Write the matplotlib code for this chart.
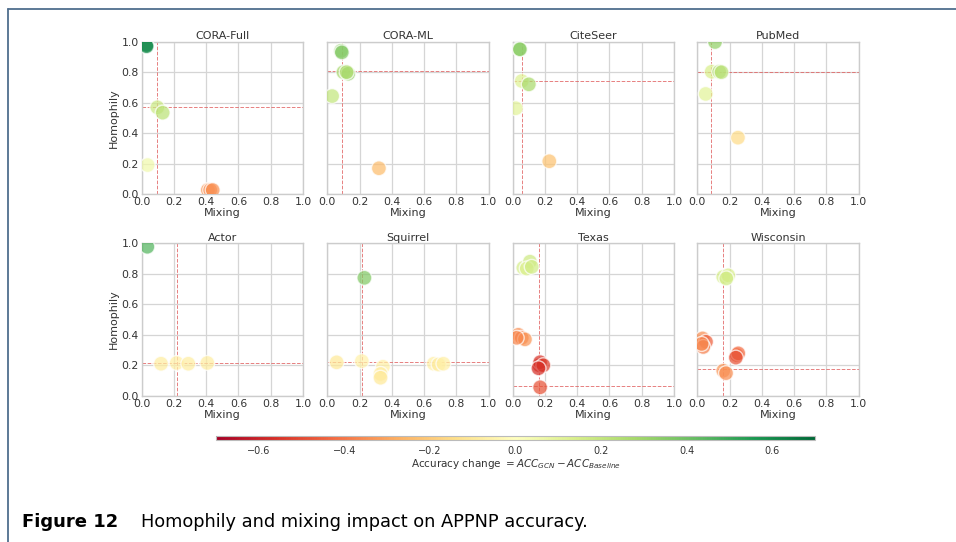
import numpy as np
import matplotlib
matplotlib.use("Agg")
import matplotlib.pyplot as plt
import seaborn as sns

sns.set_style("whitegrid")
plt.rcParams['font.family'] = ['DejaVu Sans']

# --- DATA: one entry per class group (mixing, homophily, accuracy change) ---
CORA_FULL_MIX = [0.03, 0.03, 0.097, 0.13, 0.037, 0.41, 0.425, 0.44]
CORA_FULL_HOM = [0.978, 0.97, 0.569, 0.534, 0.19, 0.026, 0.026, 0.026]
CORA_FULL_ACC = [0.62, 0.6, 0.18, 0.22, 0.05, -0.33, -0.35, -0.34]

CORA_ML_MIX = [0.085, 0.09, 0.10, 0.13, 0.12, 0.03, 0.32]
CORA_ML_HOM = [0.94, 0.93, 0.80, 0.79, 0.80, 0.643, 0.169]
CORA_ML_ACC = [0.33, 0.36, 0.28, 0.32, 0.25, 0.2, -0.24]

CITESEER_MIX = [0.041, 0.045, 0.056, 0.10, 0.019, 0.227]
CITESEER_HOM = [0.952, 0.95, 0.742, 0.72, 0.563, 0.215]
CITESEER_ACC = [0.36, 0.33, 0.12, 0.27, 0.1, -0.22]

PUBMED_MIX = [0.11, 0.089, 0.136, 0.15, 0.052, 0.252]
PUBMED_HOM = [0.998, 0.803, 0.803, 0.80, 0.657, 0.37]
PUBMED_ACC = [0.32, 0.14, 0.26, 0.22, 0.1, -0.15]

ACTOR_MIX = [0.035, 0.12, 0.217, 0.289, 0.407]
ACTOR_HOM = [0.978, 0.21, 0.215, 0.21, 0.215]
ACTOR_ACC = [0.45, -0.08, -0.07, -0.08, -0.08]

SQUIRREL_MIX = [0.23, 0.058, 0.214, 0.345, 0.33, 0.33, 0.66, 0.69, 0.72]
SQUIRREL_HOM = [0.774, 0.219, 0.227, 0.19, 0.143, 0.118, 0.21, 0.205, 0.21]
SQUIRREL_ACC = [0.36, -0.1, -0.06, -0.07, -0.08, -0.1, -0.07, -0.09, -0.07]

TEXAS_MIX = [0.066, 0.107, 0.087, 0.118, 0.035, 0.056, 0.076, 0.025,
             0.165, 0.17, 0.19, 0.16, 0.17]
TEXAS_HOM = [0.84, 0.88, 0.835, 0.846, 0.40, 0.38, 0.37, 0.38,
             0.20, 0.22, 0.20, 0.18, 0.055]
TEXAS_ACC = [0.15, 0.17, 0.13, 0.16, -0.35, -0.38, -0.33, -0.36,
             -0.58, -0.55, -0.52, -0.56, -0.48]

WISCONSIN_MIX = [0.161, 0.192, 0.18, 0.033, 0.054, 0.037, 0.027,
                 0.244, 0.254, 0.239, 0.161, 0.178]
WISCONSIN_HOM = [0.78, 0.79, 0.77, 0.376, 0.354, 0.32, 0.34,
                 0.267, 0.278, 0.25, 0.164, 0.148]
WISCONSIN_ACC = [0.15, 0.14, 0.16, -0.35, -0.45, -0.38, -0.36,
                 -0.45, -0.42, -0.48, -0.33, -0.35]

DATASETS = ["CORA-Full", "CORA-ML", "CiteSeer", "PubMed",
            "Actor", "Squirrel", "Texas", "Wisconsin"]
MIXING = [CORA_FULL_MIX, CORA_ML_MIX, CITESEER_MIX, PUBMED_MIX,
          ACTOR_MIX, SQUIRREL_MIX, TEXAS_MIX, WISCONSIN_MIX]
HOMOPHILY = [CORA_FULL_HOM, CORA_ML_HOM, CITESEER_HOM, PUBMED_HOM,
             ACTOR_HOM, SQUIRREL_HOM, TEXAS_HOM, WISCONSIN_HOM]
ACC_CHANGE = [CORA_FULL_ACC, CORA_ML_ACC, CITESEER_ACC, PUBMED_ACC,
              ACTOR_ACC, SQUIRREL_ACC, TEXAS_ACC, WISCONSIN_ACC]

# whole-graph mixing / homophily (dashed guides)
GRAPH_MIX = [0.097, 0.091, 0.056, 0.085, 0.217, 0.218, 0.163, 0.157]
GRAPH_HOM = [0.57, 0.807, 0.74, 0.80, 0.216, 0.223, 0.064, 0.173]

TICKS = [0.0, 0.2, 0.4, 0.6, 0.8, 1.0]
CBAR_TICKS = [-0.6, -0.4, -0.2, 0.0, 0.2, 0.4, 0.6]

W, H = 956, 542
fig = plt.figure(figsize=(W / 100, H / 100), dpi=100)

cmap = plt.get_cmap("RdYlGn")
norm = matplotlib.colors.Normalize(vmin=-0.7, vmax=0.7)

col_left = [141.7, 327.3, 512.7, 697.3]
row_bottom = [194.0, 395.7]
aw, ah = 161.3, 152.3
text_c = "#333333"

for i, name in enumerate(DATASETS):
    r, c = divmod(i, 4)
    ax = fig.add_axes([col_left[c] / W, (H - row_bottom[r]) / H, aw / W, ah / H])
    ax.scatter(MIXING[i], HOMOPHILY[i], c=ACC_CHANGE[i], cmap=cmap, norm=norm,
               s=115, alpha=0.72, edgecolors="white", linewidths=1.0, zorder=3)
    ax.axvline(GRAPH_MIX[i], color="#e06060", ls="--", lw=0.7, alpha=0.8, zorder=2)
    ax.axhline(GRAPH_HOM[i], color="#e06060", ls="--", lw=0.7, alpha=0.8, zorder=2)
    ax.set_xlim(0, 1)
    ax.set_ylim(0, 1)
    ax.set_xticks(TICKS)
    ax.set_yticks(TICKS)
    ax.set_xticklabels([f"{t:.1f}" for t in TICKS])
    if c == 0:
        ax.set_yticklabels([f"{t:.1f}" for t in TICKS])
        ax.set_ylabel("Homophily", fontsize=8, color=text_c, labelpad=2)
    else:
        ax.set_yticklabels([])
    ax.tick_params(axis="x", labelsize=7.8, colors=text_c, length=0, pad=2.5)
    ax.tick_params(axis="y", labelsize=7.8, colors=text_c, length=0, pad=2)
    ax.set_xlabel("Mixing", fontsize=8, color=text_c, labelpad=0.5)
    ax.set_title(name, fontsize=8, color=text_c, pad=2)
    ax.grid(True, color="#d5d5d5", lw=0.9)
    for sp in ax.spines.values():
        sp.set_color("#cccccc")
        sp.set_linewidth(1.0)

# colorbar
cax = fig.add_axes([216 / W, (H - 440) / H, 599 / W, 4.5 / H])
sm = matplotlib.cm.ScalarMappable(norm=norm, cmap=cmap)
cb = fig.colorbar(sm, cax=cax, orientation="horizontal", ticks=CBAR_TICKS)
cb.outline.set_edgecolor("#bbbbbb")
cb.outline.set_linewidth(0.8)
cb.ax.tick_params(labelsize=7, colors=text_c, length=0, pad=4)
cb.set_label(r"Accuracy change $= ACC_{GCN} - ACC_{Baseline}$", fontsize=7.5,
             color=text_c, labelpad=1)

# page frame
fig.add_artist(plt.Line2D([7.5 / W, 7.5 / W], [0, (H - 9) / H], color="#4f6e8e", lw=1.3))
fig.add_artist(plt.Line2D([7.5 / W, 1], [(H - 9) / H, (H - 9) / H], color="#4f6e8e", lw=1.3))

# caption
fig.text(22 / W, 15 / H, "Figure 12", fontsize=13, fontweight="bold", color="black")
fig.text(141 / W, 15 / H, "Homophily and mixing impact on APPNP accuracy.",
         fontsize=12.8, color="black")

fig.savefig("out.png", dpi=100)
